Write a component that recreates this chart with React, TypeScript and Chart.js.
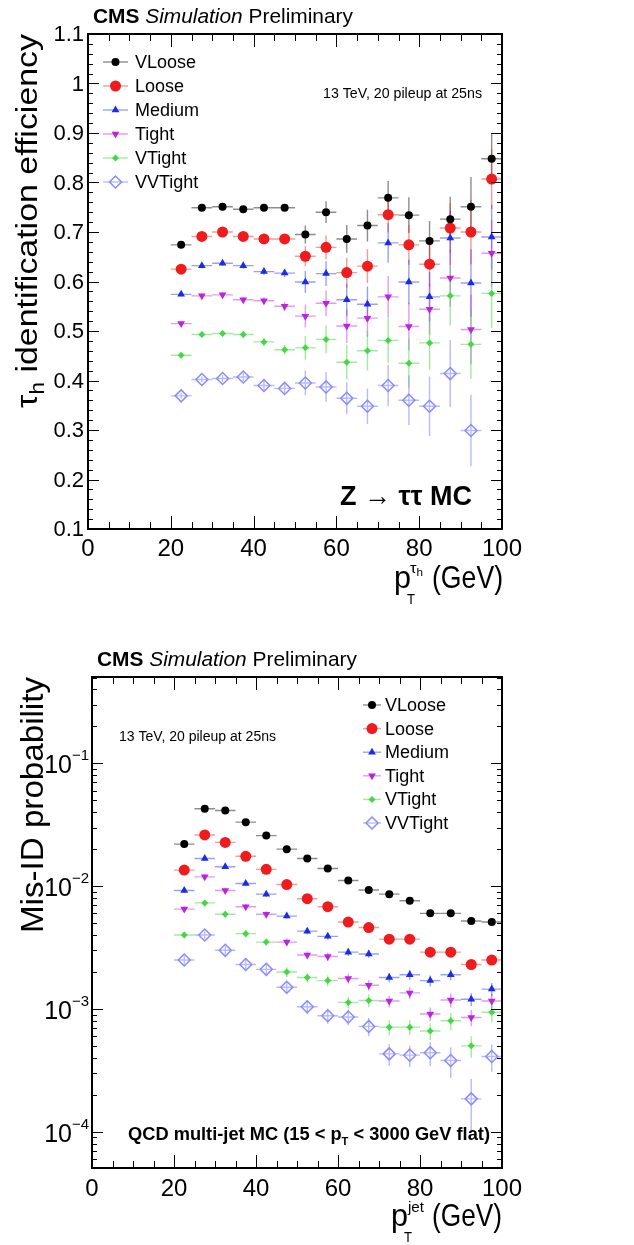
import React, { useEffect, useRef } from "react";
import { Chart, registerables } from "chart.js";
Chart.register(...registerables);

const FONT = '"Liberation Sans", Arial, Helvetica, sans-serif';

// ---------------- data ----------------
const binCenters = [22.5, 27.5, 32.5, 37.5, 42.5, 47.5, 52.5, 57.5, 62.5, 67.5, 72.5, 77.5, 82.5, 87.5, 92.5, 97.5];
const binHalfWidths = [2.5, 2.5, 2.5, 2.5, 2.5, 2.5, 2.5, 2.5, 2.5, 2.5, 2.5, 2.5, 2.5, 2.5, 2.5, 2.5];

const wpNames = ["VLoose", "Loose", "Medium", "Tight", "VTight", "VVTight"];

// efficiency (top panel)
const effVLoose = [0.674, 0.749, 0.751, 0.746, 0.749, 0.749, 0.695, 0.740, 0.686, 0.713, 0.769, 0.734, 0.682, 0.726, 0.751, 0.848];
const effLoose = [0.625, 0.691, 0.700, 0.691, 0.686, 0.686, 0.651, 0.669, 0.618, 0.631, 0.735, 0.674, 0.635, 0.708, 0.700, 0.807];
const effMedium = [0.574, 0.632, 0.637, 0.632, 0.620, 0.617, 0.599, 0.616, 0.563, 0.554, 0.678, 0.599, 0.569, 0.688, 0.597, 0.690];
const effTight = [0.515, 0.571, 0.573, 0.563, 0.561, 0.550, 0.530, 0.556, 0.510, 0.526, 0.569, 0.509, 0.544, 0.607, 0.503, 0.657];
const effVTight = [0.451, 0.493, 0.495, 0.493, 0.478, 0.462, 0.466, 0.483, 0.437, 0.460, 0.481, 0.435, 0.476, 0.571, 0.473, 0.576];
const effVVTight = [0.369, 0.402, 0.404, 0.407, 0.390, 0.384, 0.395, 0.387, 0.364, 0.348, 0.390, 0.360, 0.348, 0.414, 0.299, null];

const effErrVLoose = [0.004, 0.004, 0.004, 0.005, 0.006, 0.007, 0.018, 0.022, 0.028, 0.032, 0.034, 0.036, 0.040, 0.045, 0.060, 0.052];
const effErrLoose = [0.004, 0.004, 0.005, 0.005, 0.006, 0.008, 0.020, 0.024, 0.030, 0.034, 0.036, 0.040, 0.045, 0.050, 0.065, 0.060];
const effErrMedium = [0.005, 0.005, 0.005, 0.006, 0.007, 0.008, 0.022, 0.025, 0.032, 0.036, 0.040, 0.045, 0.050, 0.055, 0.068, 0.065];
const effErrTight = [0.005, 0.005, 0.006, 0.006, 0.007, 0.009, 0.023, 0.026, 0.034, 0.038, 0.042, 0.048, 0.052, 0.058, 0.070, 0.068];
const effErrVTight = [0.005, 0.006, 0.006, 0.007, 0.008, 0.010, 0.024, 0.028, 0.035, 0.040, 0.045, 0.050, 0.055, 0.060, 0.070, 0.070];
const effErrVVTight = [0.006, 0.006, 0.007, 0.008, 0.009, 0.011, 0.025, 0.030, 0.032, 0.036, 0.042, 0.050, 0.060, 0.068, 0.072, 0];

// mis-ID probability (bottom panel)
const misVLoose = [0.0220, 0.0427, 0.0413, 0.0332, 0.0258, 0.0200, 0.0168, 0.0139, 0.0111, 0.0093, 0.0086, 0.0076, 0.0060, 0.0060, 0.0052, 0.0051];
const misLoose = [0.0135, 0.0261, 0.0227, 0.0175, 0.0137, 0.0103, 0.0079, 0.0068, 0.0051, 0.0046, 0.0037, 0.0037, 0.0029, 0.0029, 0.0023, 0.0025];
const misMedium = [0.0092, 0.0168, 0.0144, 0.0105, 0.0086, 0.0057, 0.0043, 0.0039, 0.0029, 0.0028, 0.0018, 0.0019, 0.0017, 0.0019, 0.0012, 0.00145];
const misTight = [0.0065, 0.0119, 0.0092, 0.0068, 0.0059, 0.0035, 0.00275, 0.00267, 0.00177, 0.00156, 0.00116, 0.00135, 0.00091, 0.00118, 0.00085, 0.00116];
const misVTight = [0.0040, 0.0073, 0.0059, 0.0041, 0.0035, 0.0020, 0.0018, 0.0017, 0.00113, 0.00117, 0.00071, 0.00071, 0.00066, 0.00080, 0.00050, 0.00094];
const misVVTight = [0.0025, 0.0040, 0.0030, 0.0023, 0.0021, 0.0015, 0.00104, 0.00088, 0.00086, 0.00072, 0.00043, 0.00042, 0.00044, 0.00038, 0.000185, 0.00041];

// relative uncertainties (fraction of value)
const misRelVLoose = [0.02, 0.02, 0.02, 0.02, 0.02, 0.03, 0.03, 0.03, 0.03, 0.04, 0.04, 0.04, 0.05, 0.05, 0.05, 0.05];
const misRelLoose = [0.03, 0.03, 0.03, 0.03, 0.03, 0.04, 0.04, 0.04, 0.05, 0.05, 0.06, 0.06, 0.07, 0.07, 0.08, 0.08];
const misRelMedium = [0.04, 0.04, 0.04, 0.04, 0.05, 0.05, 0.06, 0.06, 0.07, 0.07, 0.09, 0.09, 0.10, 0.10, 0.12, 0.12];
const misRelTight = [0.05, 0.05, 0.05, 0.05, 0.06, 0.07, 0.07, 0.08, 0.09, 0.10, 0.11, 0.11, 0.13, 0.13, 0.15, 0.14];
const misRelVTight = [0.06, 0.06, 0.06, 0.07, 0.07, 0.09, 0.09, 0.10, 0.11, 0.12, 0.14, 0.14, 0.16, 0.16, 0.20, 0.17];
const misRelVVTight = [0.08, 0.07, 0.08, 0.09, 0.10, 0.12, 0.13, 0.14, 0.15, 0.17, 0.20, 0.20, 0.22, 0.28, 0.45, 0.25];

// axes / ticks
const xMajorTicks = [0, 20, 40, 60, 80, 100];
const xTickLabels = ["0", "20", "40", "60", "80", "100"];
const effYTicks = [0.1, 0.2, 0.3, 0.4, 0.5, 0.6, 0.7, 0.8, 0.9, 1.0, 1.1];
const effYTickLabels = ["0.1", "0.2", "0.3", "0.4", "0.5", "0.6", "0.7", "0.8", "0.9", "1", "1.1"];
const misYTicks = [1e-4, 1e-3, 1e-2, 1e-1];
const misYTickExponents = ["\u22124", "\u22123", "\u22122", "\u22121"];

// ---------------- styles ----------------
const wpColors = ["#000000", "#ee1c1c", "#1c2ce6", "#b825dc", "#44d844", "#8a8aff"];
const wpErrColors = ["rgba(0,0,0,0.45)", "rgba(238,28,28,0.45)", "rgba(28,44,230,0.45)", "rgba(184,37,220,0.45)", "rgba(68,216,68,0.5)", "rgba(138,138,255,0.6)"];
const wpStyles = ["circle", "circle", "triangle", "triangle", "rectRot", "rectRot"];
const wpRotations = [0, 0, 0, 180, 0, 0];
const wpRadii = [4, 5.5, 4.5, 4.5, 3.5, 6];
const wpFilled = [true, true, true, true, true, false];

// ---------------- helpers ----------------
function markerPath(ctx: CanvasRenderingContext2D, style: string, x: number, y: number, r: number, rotDeg: number) {
  let rad = (rotDeg * Math.PI) / 180;
  ctx.beginPath();
  if (style === "circle") {
    ctx.arc(x, y, r, 0, Math.PI * 2);
  } else if (style === "triangle") {
    ctx.moveTo(x + Math.sin(rad) * r, y - Math.cos(rad) * r);
    rad += (2 * Math.PI) / 3;
    ctx.lineTo(x + Math.sin(rad) * r, y - Math.cos(rad) * r);
    rad += (2 * Math.PI) / 3;
    ctx.lineTo(x + Math.sin(rad) * r, y - Math.cos(rad) * r);
    ctx.closePath();
  } else {
    ctx.moveTo(x - r, y);
    ctx.lineTo(x, y - r);
    ctx.lineTo(x + r, y);
    ctx.lineTo(x, y + r);
    ctx.closePath();
  }
}

function drawMarker(ctx: CanvasRenderingContext2D, i: number, x: number, y: number) {
  ctx.save();
  markerPath(ctx, wpStyles[i], x, y, wpRadii[i], wpRotations[i]);
  if (wpFilled[i]) {
    ctx.fillStyle = wpColors[i];
    ctx.fill();
  } else {
    ctx.strokeStyle = wpColors[i];
    ctx.lineWidth = 1.5;
    ctx.stroke();
  }
  ctx.restore();
}

type Seg = { t: string; font: string; dy?: number };
function drawSegments(ctx: CanvasRenderingContext2D, segs: Seg[], x: number, y: number, targetW?: number) {
  ctx.save();
  let total = 0;
  const widths = segs.map((s) => {
    ctx.font = s.font;
    const w = ctx.measureText(s.t).width;
    total += w;
    return w;
  });
  const sx = targetW ? targetW / total : 1;
  ctx.translate(x, y);
  ctx.scale(sx, 1);
  ctx.fillStyle = "#000";
  ctx.textAlign = "left";
  ctx.textBaseline = "alphabetic";
  let cx = 0;
  segs.forEach((s, k) => {
    ctx.font = s.font;
    ctx.fillText(s.t, cx, s.dy || 0);
    cx += widths[k];
  });
  ctx.restore();
}

function drawTicks(chart: any, kind: "eff" | "mis") {
  const { ctx, chartArea: a, scales } = chart;
  const xs = scales.x;
  const ys = scales.y;
  ctx.save();
  ctx.strokeStyle = "#000";
  ctx.lineWidth = 1;
  // x ticks (bottom & top)
  for (let v = 0; v <= 100; v += 5) {
    const px = Math.round(xs.getPixelForValue(v)) + 0.5;
    const len = v % 20 === 0 ? 13 : 7;
    ctx.beginPath();
    ctx.moveTo(px, a.bottom);
    ctx.lineTo(px, a.bottom - len);
    ctx.moveTo(px, a.top);
    ctx.lineTo(px, a.top + len);
    ctx.stroke();
  }
  // y ticks (left & right)
  const yTick = (v: number, len: number) => {
    const py = Math.round(ys.getPixelForValue(v)) + 0.5;
    ctx.beginPath();
    ctx.moveTo(a.left, py);
    ctx.lineTo(a.left + len, py);
    ctx.moveTo(a.right, py);
    ctx.lineTo(a.right - len, py);
    ctx.stroke();
  };
  if (kind === "eff") {
    for (let k = 10; k <= 110; k += 2) yTick(k / 100, k % 10 === 0 ? 11 : 5);
  } else {
    for (let e = -5; e <= 0; e++) {
      for (let m = 1; m <= 9; m++) {
        const v = m * Math.pow(10, e);
        if (v < ys.min * 0.999 || v > ys.max * 1.001) continue;
        yTick(v, m === 1 ? 11 : 5);
      }
    }
  }
  // frame
  ctx.lineWidth = 2;
  ctx.strokeRect(a.left, a.top, a.right - a.left, a.bottom - a.top);
  ctx.restore();
}

function makeErrorPlugin() {
  return {
    id: "errbars",
    beforeDatasetsDraw(chart: any) {
      const { ctx, chartArea: a, scales } = chart;
      ctx.save();
      ctx.beginPath();
      ctx.rect(a.left, a.top, a.right - a.left, a.bottom - a.top);
      ctx.clip();
      ctx.lineWidth = 1.4;
      chart.data.datasets.forEach((ds: any) => {
        ctx.strokeStyle = ds.errColor;
        ds.data.forEach((p: any) => {
          const px = scales.x.getPixelForValue(p.x);
          const py = scales.y.getPixelForValue(p.y);
          const x0 = scales.x.getPixelForValue(p.xl);
          const x1 = scales.x.getPixelForValue(p.xh);
          const y0 = scales.y.getPixelForValue(p.yl);
          const y1 = scales.y.getPixelForValue(p.yh);
          ctx.beginPath();
          ctx.moveTo(x0, py);
          ctx.lineTo(x1, py);
          ctx.moveTo(px, y0);
          ctx.lineTo(px, y1);
          ctx.stroke();
        });
      });
      ctx.restore();
    },
  };
}

function buildDatasets(values: (number | null)[][], lows: (v: number, i: number, k: number) => [number, number]) {
  return values.map((arr, i) => ({
    label: wpNames[i],
    errColor: wpErrColors[i],
    data: arr
      .map((v, k) => {
        if (v == null) return null;
        const [yl, yh] = lows(v, i, k);
        return { x: binCenters[k], y: v, xl: binCenters[k] - binHalfWidths[k], xh: binCenters[k] + binHalfWidths[k], yl, yh };
      })
      .filter((p) => p !== null),
    pointStyle: wpStyles[i],
    rotation: wpRotations[i],
    pointRadius: wpRadii[i],
    pointHoverRadius: wpRadii[i],
    backgroundColor: wpFilled[i] ? wpColors[i] : "rgba(0,0,0,0)",
    borderColor: wpColors[i],
    borderWidth: wpFilled[i] ? 0 : 1.5,
    showLine: false,
  }));
}

function header(ctx: CanvasRenderingContext2D, x: number, y: number) {
  drawSegments(
    ctx,
    [
      { t: "CMS ", font: `bold 21px ${FONT}` },
      { t: "Simulation ", font: `italic 21px ${FONT}` },
      { t: "Preliminary", font: `21px ${FONT}` },
    ],
    x,
    y,
    260
  );
}

function rotatedTitle(ctx: CanvasRenderingContext2D, segs: Seg[], baseX: number, topY: number, length: number) {
  ctx.save();
  ctx.translate(baseX, topY);
  ctx.rotate(-Math.PI / 2);
  drawSegments(ctx, segs, -length, 0, length);
  ctx.restore();
}

// ---------------- top panel ----------------
function effConfig(): any {
  const values = [effVLoose, effLoose, effMedium, effTight, effVTight, effVVTight];
  const errs = [effErrVLoose, effErrLoose, effErrMedium, effErrTight, effErrVTight, effErrVVTight];
  const decor = {
    id: "decorEff",
    afterDraw(chart: any) {
      const { ctx, chartArea: a, scales } = chart;
      drawTicks(chart, "eff");
      ctx.save();
      ctx.fillStyle = "#000";
      // y tick labels
      ctx.font = `22px ${FONT}`;
      ctx.textAlign = "right";
      ctx.textBaseline = "middle";
      effYTicks.forEach((v, k) => ctx.fillText(effYTickLabels[k], 84, scales.y.getPixelForValue(v) + 1));
      // x tick labels
      ctx.font = `24px ${FONT}`;
      ctx.textAlign = "center";
      ctx.textBaseline = "alphabetic";
      xMajorTicks.forEach((v, k) => ctx.fillText(xTickLabels[k], scales.x.getPixelForValue(v), 556));
      ctx.restore();
      // header
      header(ctx, 93, 23);
      // energy text
      drawSegments(ctx, [{ t: "13 TeV, 20 pileup at 25ns", font: `14px ${FONT}` }], 323, 98, 159);
      // process label
      drawSegments(ctx, [{ t: "Z \u2192 \u03c4\u03c4 MC", font: `bold 28px ${FONT}` }], 340, 505, 132);
      // x title
      drawSegments(
        ctx,
        [
          { t: "p", font: `32px ${FONT}` },
        ],
        394,
        588,
        17
      );
      drawSegments(ctx, [{ t: "T", font: `15px ${FONT}` }], 407, 604, 8);
      drawSegments(ctx, [{ t: "\u03c4", font: `14px ${FONT}` }, { t: "h", font: `10px ${FONT}`, dy: 3 }], 410, 573, 13);
      drawSegments(ctx, [{ t: "(GeV)", font: `32px ${FONT}` }], 432, 588, 71);
      // y title
      rotatedTitle(
        ctx,
        [
          { t: "\u03c4", font: `30px ${FONT}` },
          { t: "h", font: `20px ${FONT}`, dy: 7 },
          { t: " identification efficiency", font: `30px ${FONT}` },
        ],
        37,
        a.top,
        374
      );
      // legend
      ctx.save();
      wpNames.forEach((name, i) => {
        const ly = 62 + i * 24;
        ctx.strokeStyle = wpErrColors[i];
        ctx.lineWidth = 1.4;
        ctx.beginPath();
        ctx.moveTo(103, ly);
        ctx.lineTo(128, ly);
        ctx.stroke();
        drawMarker(ctx, i, 115.5, ly);
        ctx.fillStyle = "#000";
        ctx.font = `18px ${FONT}`;
        ctx.textAlign = "left";
        ctx.textBaseline = "middle";
        ctx.fillText(name, 135, ly + 1);
      });
      ctx.restore();
    },
  };
  return {
    type: "scatter",
    data: {
      datasets: buildDatasets(values, (v, i, k) => [v - (errs[i][k] as number), v + (errs[i][k] as number)]),
    },
    options: {
      animation: false,
      responsive: false,
      events: [],
      layout: { padding: { left: 88, right: 132, top: 34, bottom: 91 } },
      scales: {
        x: { type: "linear", min: 0, max: 100, display: false },
        y: { type: "linear", min: 0.1, max: 1.1, display: false },
      },
      plugins: { legend: { display: false }, tooltip: { enabled: false } },
    },
    plugins: [makeErrorPlugin(), decor],
  };
}

// ---------------- bottom panel ----------------
function misConfig(): any {
  const values = [misVLoose, misLoose, misMedium, misTight, misVTight, misVVTight];
  const rels = [misRelVLoose, misRelLoose, misRelMedium, misRelTight, misRelVTight, misRelVVTight];
  const decor = {
    id: "decorMis",
    afterDraw(chart: any) {
      const { ctx, chartArea: a, scales } = chart;
      drawTicks(chart, "mis");
      ctx.save();
      ctx.fillStyle = "#000";
      // y tick labels 10^n
      misYTicks.forEach((v, k) => {
        const py = scales.y.getPixelForValue(v);
        ctx.font = `25px ${FONT}`;
        ctx.textAlign = "right";
        ctx.textBaseline = "middle";
        ctx.fillText("10", 72, py + 3);
        ctx.font = `15px ${FONT}`;
        ctx.textAlign = "left";
        ctx.fillText(misYTickExponents[k], 72, py - 7);
      });
      // x tick labels
      ctx.font = `24px ${FONT}`;
      ctx.textAlign = "center";
      ctx.textBaseline = "alphabetic";
      xMajorTicks.forEach((v, k) => ctx.fillText(xTickLabels[k], scales.x.getPixelForValue(v), 576));
      ctx.restore();
      header(ctx, 97, 46);
      drawSegments(ctx, [{ t: "13 TeV, 20 pileup at 25ns", font: `14px ${FONT}` }], 119, 121, 157);
      // process label
      drawSegments(
        ctx,
        [
          { t: "QCD multi-jet MC (15 < p", font: `bold 18px ${FONT}` },
          { t: "T", font: `bold 11px ${FONT}`, dy: 5 },
          { t: " < 3000 GeV flat)", font: `bold 18px ${FONT}` },
        ],
        128,
        520,
        362
      );
      // x title
      drawSegments(ctx, [{ t: "p", font: `32px ${FONT}` }], 391, 606, 17);
      drawSegments(ctx, [{ t: "T", font: `15px ${FONT}` }], 404, 622, 8);
      drawSegments(ctx, [{ t: "jet", font: `15px ${FONT}` }], 408, 592, 16);
      drawSegments(ctx, [{ t: "(GeV)", font: `32px ${FONT}` }], 432, 606, 70);
      // y title
      rotatedTitle(ctx, [{ t: "Mis-ID probability", font: `32px ${FONT}` }], 43, a.top, 256);
      // legend
      ctx.save();
      wpNames.forEach((name, i) => {
        const ly = 85 + i * 23.6;
        ctx.strokeStyle = wpErrColors[i];
        ctx.lineWidth = 1.4;
        ctx.beginPath();
        ctx.moveTo(363, ly);
        ctx.lineTo(381, ly);
        ctx.stroke();
        drawMarker(ctx, i, 372, ly);
        ctx.fillStyle = "#000";
        ctx.font = `18px ${FONT}`;
        ctx.textAlign = "left";
        ctx.textBaseline = "middle";
        ctx.fillText(name, 385, ly + 1);
      });
      ctx.restore();
    },
  };
  return {
    type: "scatter",
    data: {
      datasets: buildDatasets(values, (v, i, k) => [v * (1 - rels[i][k]), v * (1 + rels[i][k])]),
    },
    options: {
      animation: false,
      responsive: false,
      events: [],
      layout: { padding: { left: 92, right: 132, top: 57, bottom: 77 } },
      scales: {
        x: { type: "linear", min: 0, max: 100, display: false },
        y: { type: "logarithmic", min: 5.06e-5, max: 0.505, display: false },
      },
      plugins: { legend: { display: false }, tooltip: { enabled: false } },
    },
    plugins: [makeErrorPlugin(), decor],
  };
}

function Panel({ make, top, height }: { make: () => any; top: number; height: number }) {
  const ref = useRef<HTMLCanvasElement | null>(null);
  useEffect(() => {
    if (!ref.current) return;
    const chart = new Chart(ref.current, make());
    return () => chart.destroy();
  }, [make]);
  return (
    <canvas
      ref={ref}
      width={634}
      height={height}
      style={{ position: "absolute", left: 0, top, width: 634, height, display: "block" }}
    />
  );
}

export default function App() {
  return (
    <div style={{ position: "absolute", left: 0, top: 0, width: 634, height: 1245, background: "#fff", overflow: "hidden" }}>
      <Panel make={effConfig} top={0} height={620} />
      <Panel make={misConfig} top={620} height={625} />
    </div>
  );
}
